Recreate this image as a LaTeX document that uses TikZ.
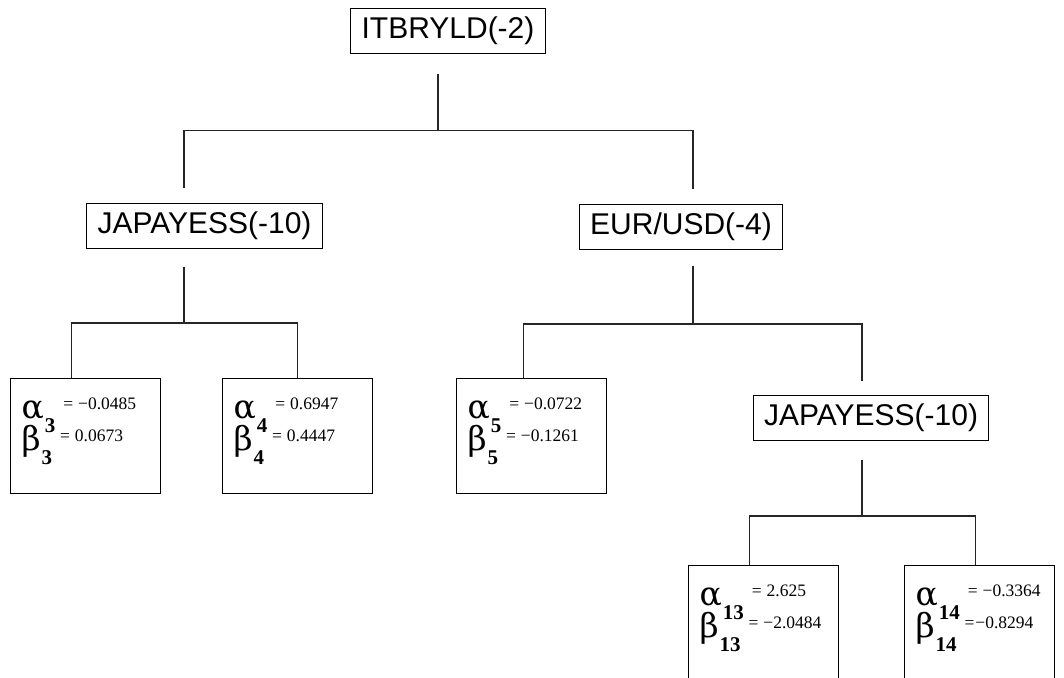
\documentclass[tikz,border=0pt]{standalone}
\usepackage{fontspec}
\setmainfont{Liberation Sans}
\newfontfamily\serf{Liberation Serif}
\newfontfamily\grkfam{DejaVu Serif}
\usetikzlibrary{calc}
\newcommand\grkf{\grkfam\fontsize{33}{33}\selectfont}
\newcommand\subf{\serf\bfseries\fontsize{21}{21}\selectfont}
\newcommand\valf{\serf\fontsize{17.5}{17.5}\selectfont}
\newcommand\eqs{=\hspace{5pt}}
\newcommand\lrow[3]{\mbox{{\grkf #1}\hspace{1pt}\raisebox{-14pt}[0pt][0pt]{\subf #2}\hspace{8pt}\raisebox{9pt}[0pt][0pt]{\valf #3}}}
\newcommand\leafc[3]{\rule{0pt}{20pt}\lrow{α}{#1}{#2}\\\lrow{β}{#1}{#3}\rule[-23pt]{0pt}{23pt}}
\begin{document}
\begin{tikzpicture}[x=1pt,y=-1pt,
  lbl/.style={draw, line width=1pt, inner xsep=11pt, inner ysep=0pt, minimum height=45pt,
    font=\fontsize{30}{30}\selectfont},
  leaf/.style={draw, line width=1pt, anchor=north west, minimum height=115pt,
    text width=128pt, inner xsep=11pt, inner ysep=0pt, align=left,
    font=\fontsize{32}{32}\selectfont},
  conn/.style={line width=1.2pt, draw=black!85}]
\useasboundingbox (0,0) rectangle (1064,677);
\clip (0,0) rectangle (1064,677);
\fill[white] (0,0) rectangle (1064,677);

\node[lbl] (root) at (448,31) {ITBRYLD(-2)};
\node[lbl] (JL) at (204.5,225.5) {JAPAYESS(-10)};
\node[lbl] (EUR) at (681,226.5) {EUR/USD(-4)};
\node[lbl] (JR) at (871,418) {JAPAYESS(-10)};

\node[leaf] (a3) at (10,378) {\leafc{3}{\eqs−0.0485}{\eqs0.0673}};
\node[leaf] (a4) at (222,378) {\leafc{4}{\eqs0.6947}{\eqs0.4447}};
\node[leaf] (a5) at (456,378) {\leafc{5}{\eqs−0.0722}{\eqs−0.1261}};
\node[leaf] (a13) at (688,565) {\leafc{13}{\eqs2.625}{\eqs−2.0484}};
\node[leaf] (a14) at (904,565) {\leafc{14}{\eqs−0.3364}{=\hspace{1pt}−0.8294}};

% root level
\draw[conn] ($(root.south)+(-10,20)$) -- ++(0,57);
\draw[conn] ($(JL.north)+(-20.5,-15)$) |- ($(EUR.north)+(12,-73)$) -- ++(0,58);
% left JAPAYESS subtree
\draw[conn] ($(JL.south)+(-20.5,18)$) -- ++(0,57);
\draw[conn] ($(a3.north)+(-14,0)$) |- ($(a4.north)+(0,-55)$) -- (a4.north);
% EUR/USD subtree
\draw[conn] ($(EUR.south)+(12,16)$) -- ++(0,58);
\draw[conn] ($(a5.north)+(-8,0)$) |- ($(JR.north)+(-9,-71)$) -- ++(0,57);
% right JAPAYESS subtree
\draw[conn] ($(JR.south)+(-9,19)$) -- ++(0,57);
\draw[conn] ($(a13.north)+(-14,0)$) |- ($(a14.north)+(-4,-49)$) -- ($(a14.north)+(-4,0)$);
\end{tikzpicture}
\end{document}
